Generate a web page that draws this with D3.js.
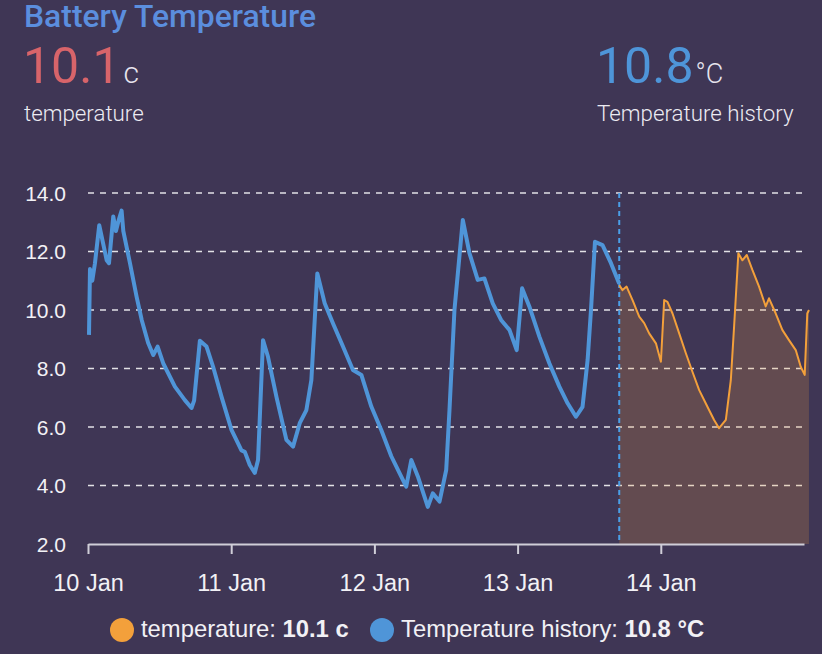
<!DOCTYPE html>
<html lang="en">
<head>
  <meta charset="UTF-8">
  <title>Battery Temperature</title>
  <script src="https://d3js.org/d3.v7.min.js"></script>
  <style>
    html, body { margin: 0; padding: 0; background: #3f3655; }
    svg { display: block; }
  </style>
</head>
<body>
<script>
  // history series (blue) : time, value
  var historyTimes = [
    "2024-01-10T00:10", "2024-01-10T00:20", "2024-01-10T00:43", "2024-01-10T01:10", "2024-01-10T01:53",
    "2024-01-10T03:08", "2024-01-10T03:31", "2024-01-10T04:14", "2024-01-10T04:41", "2024-01-10T05:11",
    "2024-01-10T05:38", "2024-01-10T05:55", "2024-01-10T07:02", "2024-01-10T08:09", "2024-01-10T09:00",
    "2024-01-10T10:05", "2024-01-10T10:56", "2024-01-10T11:40", "2024-01-10T12:36", "2024-01-10T14:34",
    "2024-01-10T16:14", "2024-01-10T17:21", "2024-01-10T17:47", "2024-01-10T18:45", "2024-01-10T19:52",
    "2024-01-10T20:58", "2024-01-10T22:23", "2024-01-11T00:03", "2024-01-11T01:43", "2024-01-11T02:17",
    "2024-01-11T03:07", "2024-01-11T03:57", "2024-01-11T04:30", "2024-01-11T05:20", "2024-01-11T06:10",
    "2024-01-11T07:35", "2024-01-11T09:15", "2024-01-11T10:22", "2024-01-11T11:29", "2024-01-11T12:36",
    "2024-01-11T13:26", "2024-01-11T14:26", "2024-01-11T15:40", "2024-01-11T17:03", "2024-01-11T18:44",
    "2024-01-11T20:24", "2024-01-11T21:49", "2024-01-11T23:29", "2024-01-12T01:09", "2024-01-12T02:50",
    "2024-01-12T04:13", "2024-01-12T05:20", "2024-01-12T06:11", "2024-01-12T07:17", "2024-01-12T08:57",
    "2024-01-12T09:47", "2024-01-12T10:55", "2024-01-12T12:02", "2024-01-12T12:35", "2024-01-12T13:25",
    "2024-01-12T14:49", "2024-01-12T15:56", "2024-01-12T17:19", "2024-01-12T18:26", "2024-01-12T19:50",
    "2024-01-12T21:14", "2024-01-12T22:38", "2024-01-12T23:51", "2024-01-13T00:45", "2024-01-13T01:58",
    "2024-01-13T03:39", "2024-01-13T05:19", "2024-01-13T07:00", "2024-01-13T08:23", "2024-01-13T09:47",
    "2024-01-13T10:53", "2024-01-13T11:44", "2024-01-13T12:18", "2024-01-13T12:58", "2024-01-13T14:14",
    "2024-01-13T15:39", "2024-01-13T17:02"
  ];
  var historyValues = [
    9.15, 11.4, 11.0, 11.6, 12.9,
    11.7, 11.6, 13.2, 12.7, 13.1,
    13.4, 12.7, 11.6, 10.45, 9.66,
    8.87, 8.46, 8.75, 8.18, 7.38,
    6.92, 6.65, 6.9, 8.95, 8.75,
    8.06, 7.03, 5.9, 5.2, 5.15,
    4.7, 4.43, 4.87, 8.97, 8.4,
    7.03, 5.56, 5.33, 6.13, 6.58,
    7.6, 11.25, 10.23, 9.55, 8.75,
    7.95, 7.78, 6.7, 5.9, 5.0,
    4.42, 3.96, 4.87, 4.31, 3.27,
    3.73, 3.45, 4.53, 6.58, 10.0,
    13.08, 11.94, 11.03, 11.08, 10.23,
    9.66, 9.32, 8.63, 10.74, 10.12,
    9.09, 8.18, 7.38, 6.81, 6.35,
    6.69, 8.29, 10.0, 12.33, 12.22,
    11.6, 10.9
  ];

  // current series (orange)
  var tempTimes = [
    "2024-01-13T17:02", "2024-01-13T17:35", "2024-01-13T18:16", "2024-01-13T19:16", "2024-01-13T20:23",
    "2024-01-13T21:13", "2024-01-13T22:03", "2024-01-13T23:11", "2024-01-14T00:01", "2024-01-14T00:34",
    "2024-01-14T01:07", "2024-01-14T01:58", "2024-01-14T03:05", "2024-01-14T04:12", "2024-01-14T05:18",
    "2024-01-14T06:26", "2024-01-14T07:49", "2024-01-14T08:56", "2024-01-14T09:46", "2024-01-14T10:54",
    "2024-01-14T11:44", "2024-01-14T12:17", "2024-01-14T13:00", "2024-01-14T13:40", "2024-01-14T14:25",
    "2024-01-14T15:21", "2024-01-14T16:28", "2024-01-14T17:35", "2024-01-14T18:08", "2024-01-14T19:16",
    "2024-01-14T20:22", "2024-01-14T21:29", "2024-01-14T22:37", "2024-01-14T23:27", "2024-01-15T00:07",
    "2024-01-15T00:33", "2024-01-15T00:50"
  ];
  var tempValues = [
    10.85, 10.68, 10.8, 10.34, 9.77,
    9.55, 9.2, 8.86, 8.23, 10.34,
    10.28, 9.88, 9.2, 8.52, 7.89,
    7.26, 6.69, 6.24, 5.96, 6.24,
    7.6, 9.43, 11.94, 11.7, 11.88,
    11.37, 10.8, 10.12, 10.4, 9.88,
    9.32, 8.97, 8.63, 8.06, 7.78,
    9.88, 10.0
  ];

  var dayTicks = ["2024-01-10T00:00", "2024-01-11T00:00", "2024-01-12T00:00", "2024-01-13T00:00", "2024-01-14T00:00"];
  var yTicks = [2, 4, 6, 8, 10, 12, 14];
  var nowTime = "2024-01-13T17:02";

  var seriesNames = ["temperature", "Temperature history"];
  var seriesStates = ["10.1", "10.8"];
  var seriesUnits = ["c", "°C"];

  var parse = d3.timeParse("%Y-%m-%dT%H:%M");
  var width = 822, height = 654;
  var plotLeft = 88, plotRight = 804, plotTop = 193, plotBottom = 544;

  var orange = "#f3a03b", blue = "#4f95d8";
  var tickFont = "Liberation Sans, Arial, sans-serif";

  var svg = d3.select("body").append("svg")
      .attr("width", width)
      .attr("height", height);

  // header
  svg.append("text").text("Battery Temperature")
      .attr("x", 24).attr("y", 27)
      .attr("font-family", "Roboto").attr("font-weight", 500).attr("font-size", 30.5)
      .attr("textLength", 292).attr("lengthAdjust", "spacingAndGlyphs")
      .attr("fill", "#5b8ede");

  var st1 = svg.append("text").attr("x", 23).attr("y", 83).attr("font-family", "Roboto");
  st1.append("tspan").text(seriesStates[0]).attr("font-size", 50).attr("fill", "#d8646a");
  st1.append("tspan").text(seriesUnits[0]).attr("dx", 3).attr("font-size", 30).attr("font-weight", 300).attr("fill", "#e6e4ee");
  svg.append("text").text(seriesNames[0])
      .attr("x", 24).attr("y", 121)
      .attr("font-family", "Roboto").attr("font-weight", 300).attr("font-size", 22.3)
      .attr("fill", "#ecebf2");

  var st2 = svg.append("text").attr("x", 596).attr("y", 83).attr("font-family", "Roboto");
  st2.append("tspan").text(seriesStates[1]).attr("font-size", 50).attr("fill", "#4e95d9");
  st2.append("tspan").text(seriesUnits[1]).attr("dx", 2).attr("font-size", 27).attr("font-weight", 300).attr("fill", "#e6e4ee");
  svg.append("text").text(seriesNames[1])
      .attr("x", 597).attr("y", 121)
      .attr("font-family", "Roboto").attr("font-weight", 300).attr("font-size", 22.3)
      .attr("fill", "#ecebf2");

  // scales
  var x = d3.scaleTime()
      .domain([parse("2024-01-10T00:00"), parse("2024-01-15T00:00")])
      .range([plotLeft, plotRight]);
  var y = d3.scaleLinear().domain([2, 14]).range([plotBottom, plotTop]);

  // grid
  svg.append("g").selectAll("line")
      .data(yTicks.filter(function(d) { return d > 2; }))
      .enter().append("line")
      .attr("x1", plotLeft).attr("x2", plotRight - 2)
      .attr("y1", function(d) { return y(d); })
      .attr("y2", function(d) { return y(d); })
      .attr("stroke", "#e2e1e6").attr("stroke-width", 1.5)
      .attr("stroke-dasharray", "6,6");

  // y labels
  svg.append("g").selectAll("text")
      .data(yTicks).enter().append("text")
      .text(function(d) { return d3.format(".1f")(d); })
      .attr("x", 66).attr("y", function(d) { return y(d) + 7.5; })
      .attr("text-anchor", "end")
      .attr("font-family", tickFont).attr("font-size", 21)
      .attr("fill", "#f2f1f5");

  var hist = historyTimes.map(function(t, i) { return { t: parse(t), v: historyValues[i] }; });
  var temp = tempTimes.map(function(t, i) { return { t: parse(t), v: tempValues[i] }; });

  // orange area
  svg.append("path").datum(temp)
      .attr("d", d3.area().x(function(d) { return x(d.t); }).y0(plotBottom).y1(function(d) { return y(d.v); }))
      .attr("fill", orange).attr("fill-opacity", 0.2);

  // x axis
  var xAxis = d3.axisBottom(x)
      .tickValues(dayTicks.map(parse))
      .tickFormat(d3.timeFormat("%-d %b"))
      .tickSize(10).tickSizeOuter(0);
  var ax = svg.append("g").attr("transform", "translate(0," + plotBottom + ")").call(xAxis);
  ax.select(".domain").attr("stroke", "#d0ced8").attr("stroke-width", 2);
  ax.selectAll(".tick line").attr("stroke", "#d0ced8").attr("stroke-width", 2);
  ax.selectAll(".tick text")
      .attr("y", 47).attr("dy", 0)
      .attr("font-family", tickFont).attr("font-size", 23.5)
      .attr("fill", "#f2f1f5");

  // now marker
  svg.append("line")
      .attr("x1", x(parse(nowTime))).attr("x2", x(parse(nowTime)))
      .attr("y1", plotTop).attr("y2", plotBottom)
      .attr("stroke", "#4a9fe8").attr("stroke-width", 2)
      .attr("stroke-dasharray", "5,4");

  svg.append("path").datum(temp)
      .attr("d", d3.line().x(function(d) { return x(d.t); }).y(function(d) { return y(d.v); }))
      .attr("fill", "none").attr("stroke", orange).attr("stroke-width", 2)
      .attr("stroke-linejoin", "round");

  svg.append("path").datum(hist)
      .attr("d", d3.line().x(function(d) { return x(d.t); }).y(function(d) { return y(d.v); }))
      .attr("fill", "none").attr("stroke", blue).attr("stroke-width", 4)
      .attr("stroke-linejoin", "round");

  // legend
  var legendX = [122, 382];
  var legendColors = [orange, blue];
  seriesNames.forEach(function(name, i) {
    svg.append("circle")
        .attr("cx", legendX[i]).attr("cy", 630).attr("r", 12)
        .attr("fill", legendColors[i]);
    var t = svg.append("text")
        .attr("x", legendX[i] + 19).attr("y", 637)
        .attr("font-family", tickFont).attr("font-size", 23.8)
        .attr("fill", "#f2f1f5");
    t.append("tspan").text(name + ": ");
    t.append("tspan").text(seriesStates[i] + " " + seriesUnits[i]).attr("font-weight", "bold");
  });
</script>
</body>
</html>
